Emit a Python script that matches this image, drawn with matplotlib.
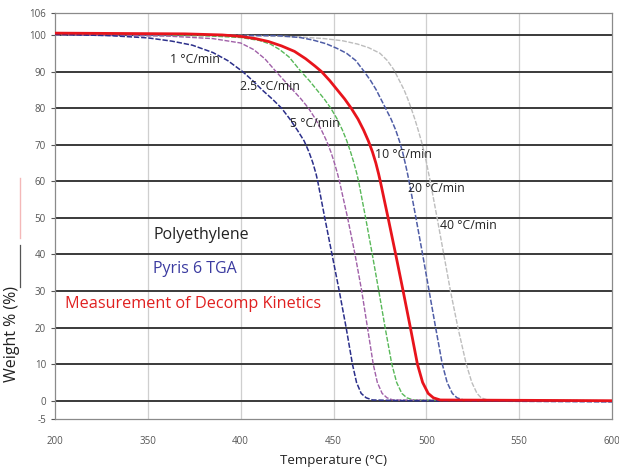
import matplotlib
matplotlib.use("Agg")
import matplotlib.pyplot as plt
from matplotlib.lines import Line2D

plt.rcParams['font.family'] = ['Open Sans', 'DejaVu Sans']

# ---- data (temperature in °C, weight in %) ----
t_1 = [300, 330, 350, 363, 374, 385, 393, 401, 406.5, 411.5, 417, 422, 426.5, 430.5, 434.2, 436.8, 438.9, 440.6, 441.5, 445.3, 449.2, 453.1, 456.8, 460.2, 462.4, 464.9, 467.6, 471, 490, 600]
w_1 = [100.2, 99.8, 99.2, 98.3, 97.2, 95.2, 93, 90, 87.5, 85, 82.5, 80, 77, 74, 71, 68, 65, 62, 60, 50, 40, 30, 20, 10, 5, 2, 0.8, 0.2, 0, -0.3]

t_2p5 = [300, 360, 385, 400, 407, 413, 419, 423.5, 428, 432.5, 436.5, 440.3, 443.5, 446.3, 448.6, 450.5, 452.2, 453.2, 457.6, 461.6, 465.2, 468.3, 471.4, 473.6, 476.2, 478.8, 482, 600]
w_2p5 = [100, 99.7, 99, 97.8, 96, 93.5, 90, 87.5, 85, 82.5, 80, 77, 74, 71, 68, 65, 62, 60, 50, 40, 30, 20, 10, 5, 2, 0.8, 0.2, 0]

t_5 = [300, 380, 400, 410, 416, 421, 426, 432.5, 437, 441, 445, 448.5, 452, 454.8, 457.2, 459.2, 461, 462.6, 463.5, 467.3, 470.9, 474.4, 477.8, 481.4, 484, 486.8, 489.5, 493, 600]
w_5 = [100, 99.8, 99.3, 98.5, 97.5, 96, 94, 90, 87.5, 85, 82.5, 80, 77, 74, 71, 68, 65, 62, 60, 50, 40, 30, 20, 10, 5, 2, 0.8, 0.2, 0]

t_10 = [300, 370, 390, 400, 408, 415, 422, 429, 435, 440, 443.5, 448, 452, 456, 459.5, 463.2, 466.2, 468.8, 471, 472.8, 474.3, 475.2, 479.4, 483.5, 487.5, 491.4, 495.2, 498, 501, 503.8, 507.5, 600]
w_10 = [100.5, 100.3, 100, 99.6, 99, 98.2, 97, 95.5, 93.5, 91.5, 90, 87.5, 85, 82.5, 80, 77, 74, 71, 68, 65, 62, 60, 50, 40, 30, 20, 10, 5, 2, 0.8, 0.2, 0]

t_20 = [300, 420, 432, 439, 446, 452, 457, 462, 466.5, 470, 473, 475.5, 478, 481, 483.5, 485.5, 487.2, 488.6, 489.9, 490.7, 494.4, 498, 501.5, 505, 508.6, 511.2, 514, 516.5, 520, 600]
w_20 = [100, 99.8, 99.3, 98.6, 97.6, 96.3, 95, 93, 90, 87.5, 85, 82.5, 80, 77, 74, 71, 68, 65, 62, 60, 50, 40, 30, 20, 10, 5, 2, 0.8, 0.2, -0.2]

t_40 = [300, 400, 430, 445, 455, 463, 469, 475, 479, 482.5, 485.5, 488, 490, 491.8, 493.8, 495.6, 497.3, 498.8, 500.1, 501.3, 502.1, 505.8, 509.4, 513, 517, 521.5, 524.5, 527.3, 529.5, 533, 600]
w_40 = [100, 99.9, 99.5, 99, 98.4, 97.5, 96.5, 95, 93, 90.5, 87.5, 85, 82.5, 80, 77, 74, 71, 68, 65, 62, 60, 50, 40, 30, 20, 10, 5, 2, 0.8, 0.2, 0]

x_ticks = [300, 350, 400, 450, 500, 550, 600]
x_tick_labels = ['200', '350', '400', '450', '500', '550', '600']
y_ticks = [-5, 0, 10, 20, 30, 40, 50, 60, 70, 80, 90, 100, 106]
y_tick_labels = ['-5', '0', '10', '20', '30', '40', '50', '60', '70', '80', '90', '100', '106']

rate_labels = ['1 °C/min', '2.5 °C/min', '5 °C/min', '10 °C/min', '20 °C/min', '40 °C/min']
rate_label_pos = [(361.9, 93.2), (399.6, 85.9), (426.5, 75.9), (472.3, 67.2), (490, 58), (507.3, 48)]

# ---- figure ----
fig = plt.figure(figsize=(6.19, 4.67), dpi=100)
ax = fig.add_axes([55/619, 1-419/467, (612-55)/619, (419-13)/467])

ax.set_xlim(300, 600)
ax.set_ylim(-5, 106)

# grid
for xv in x_ticks[1:-1]:
    ax.axvline(xv, color='#cfcfcf', lw=0.9, zorder=1)
for yv in y_ticks[1:-1]:
    ax.axhline(yv, color='#3a3a3a', lw=1.4, zorder=1)

dash = (0, (3.5, 1.2))
ax.plot(t_40, w_40, color='#bdbdbd', lw=1.0, ls=dash, zorder=3)
ax.plot(t_20, w_20, color='#4f5da6', lw=1.1, ls=dash, zorder=3)
ax.plot(t_5, w_5, color='#58b858', lw=1.0, ls=dash, zorder=3)
ax.plot(t_2p5, w_2p5, color='#a060a8', lw=1.0, ls=dash, zorder=3)
ax.plot(t_1, w_1, color='#2b2f8a', lw=1.1, ls=dash, zorder=3)
ax.plot(t_10, w_10, color='#e8141c', lw=2.0, zorder=4)

for lab, (tx, ty) in zip(rate_labels, rate_label_pos):
    ax.text(tx, ty, lab, fontsize=8.8, color='#222222', ha='left', va='center', zorder=5)

ax.text(378.6, 45.3, 'Polyethylene', fontsize=11.5, color='#222222', ha='center', va='center', zorder=5)
ax.text(375.4, 36, 'Pyris 6 TGA', fontsize=11.5, color='#3b3ba0', ha='center', va='center', zorder=5)
ax.text(305.4, 26.5, 'Measurement of Decomp Kinetics', fontsize=11.7, color='#e02020', ha='left', va='center', zorder=5)

ax.set_xticks(x_ticks)
ax.set_xticklabels(x_tick_labels)
ax.set_yticks(y_ticks)
ax.set_yticklabels(y_tick_labels)
ax.tick_params(axis='both', labelsize=7, colors='#555555', length=3, width=0.8)
ax.tick_params(axis='x', length=0, pad=12)

for s in ax.spines.values():
    s.set_color('#8a8a8a')
    s.set_linewidth(0.9)

ax.set_xlabel('Temperature (°C)', fontsize=9.5, color='#222222', labelpad=5)
ax.set_ylabel('Weight % (%)', fontsize=11.5, color='#222222', labelpad=6)
ax.yaxis.set_label_coords(-0.062, 0.21)

# artifact line marks next to the y label
fig.add_artist(Line2D([20/619, 20/619], [1-287/467, 1-245/467], color='#555555', lw=0.9))
fig.add_artist(Line2D([20/619, 20/619], [1-238/467, 1-178/467], color='#f4b8b8', lw=1.0))

fig.savefig('out.png', dpi=100)
